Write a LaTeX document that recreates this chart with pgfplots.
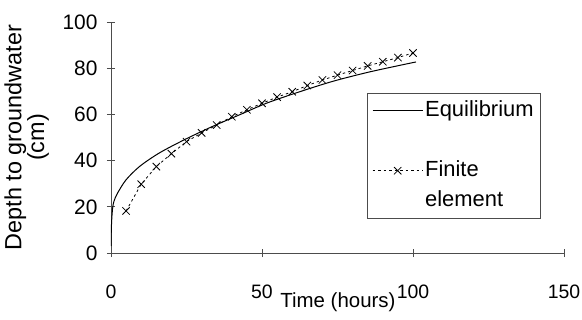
\documentclass[border=0pt]{standalone}
\usepackage{fontspec}
\setmainfont{Liberation Sans}
\usepackage{pgfplots}
\pgfplotsset{compat=1.18}
\pgfplotstableread{
t d
0 3
0.15 12
0.5 19
1 22.5
2.2 26
5 31.7
9.5 37.5
16 43.3
24.4 49.1
33.8 54.9
42 59.5
51.4 64.8
62 69.6
73.4 74.3
85 78.2
95.5 81.2
101 82.7
}\equil
\pgfplotstableread{
t d
5 18.2
10 29.8
15 37.4
20 43
25 48.2
30 52
35 55.4
40 59
45 62
50 64.8
55 67.5
60 69.8
65 72.5
70 74.9
75 77
80 79
85 81
90 82.8
95 84.6
100 86.6
}\fem
\begin{document}
\fontsize{22}{24}\selectfont
\begin{tikzpicture}
\begin{axis}[
  at={(0,0)}, anchor=south west,
  scale only axis, width=453bp, height=231bp,
  xmin=0, xmax=150, ymin=0, ymax=100,
  axis lines*=left,
  axis line style={gray!60!black, line width=0.8bp},
  xtick={0,50,100,150}, ytick={0,20,40,60,80,100},
  tick align=center, major tick length=8bp,
  tick style={gray!60!black, line width=0.8bp},
  /pgf/number format/assume math mode=true,
  yticklabel style={font=\fontsize{21}{24}\selectfont, xshift=-2bp},
  xticklabel style={font=\fontsize{19.5}{22}\selectfont, anchor=base, yshift=-41bp},
  xlabel={Time (hours)},
  xlabel style={at={(axis description cs:0.501,-0.238)}, anchor=base, inner sep=0pt, font=\fontsize{20.5}{24}\selectfont},
  ylabel={Depth to groundwater\\(cm)},
  ylabel style={at={(axis description cs:-0.186,0.5)}, anchor=center, align=center, font=\fontsize{23.5}{20}\selectfont},
  legend style={at={(axis description cs:0.949,0.693)}, anchor=north east,
    draw=gray!60!black, line width=0.6bp, inner sep=5bp,
    nodes={text height=16bp, text depth=5bp, inner sep=2bp, font=\fontsize{22}{24}\selectfont},
    row sep=5bp},
  legend cell align=left,
  legend image code/.code={\draw[mark repeat=2,mark phase=2,#1] plot coordinates {(0bp,0bp)(25bp,0bp)(50bp,0bp)};},
]
\addplot[black, line width=1bp, no markers, smooth] table[x=t,y=d] {\equil};
\addlegendentry{Equilibrium}
\addlegendimage{empty legend}
\addlegendentry{}
\addplot[black, line width=0.8bp, dash pattern=on 2.5bp off 3bp, mark=x, mark size=5.2bp, mark options={solid}] table[x=t,y=d] {\fem};
\addlegendentry{Finite}
\addlegendimage{empty legend}
\addlegendentry{element}
\end{axis}
\pgfresetboundingbox
\path (-111bp,-67bp) rectangle (471bp,253bp);
\end{tikzpicture}
\end{document}
